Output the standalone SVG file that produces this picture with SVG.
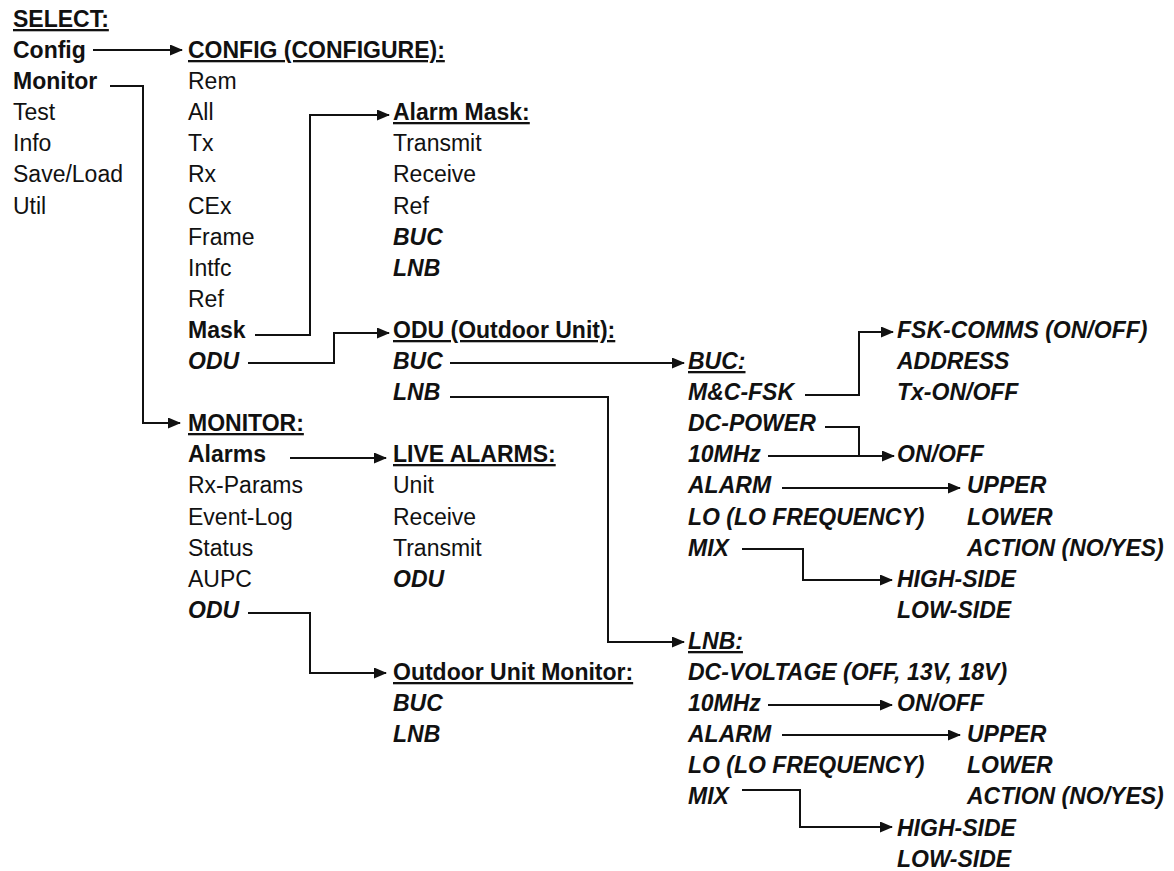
<svg xmlns="http://www.w3.org/2000/svg" width="1174" height="871" viewBox="0 0 1174 871">
<style>
text{font-family:"Liberation Sans",Arial,sans-serif;font-size:23px;fill:#111}
.b{font-weight:bold}
.bi{font-weight:bold;font-style:italic}
.h{font-weight:bold;text-decoration:underline;text-decoration-thickness:2px;text-underline-offset:3px}
.hi{font-weight:bold;font-style:italic;text-decoration:underline;text-decoration-thickness:2px;text-underline-offset:3px}
.c{fill:none;stroke:#111;stroke-width:2;marker-end:url(#ah)}
.n{fill:none;stroke:#111;stroke-width:2}
</style>
<defs>
<marker id="ah" markerUnits="userSpaceOnUse" markerWidth="13" markerHeight="11" refX="12" refY="5.5" orient="auto">
<path d="M0,0 L13,5.5 L0,11 z" fill="#111"/>
</marker>
</defs>
<rect width="1174" height="871" fill="#fff"/>
<g id="select">
<text x="13" y="27" class="h">SELECT:</text>
<text x="13" y="58" class="b">Config</text>
<text x="13" y="89" class="b">Monitor</text>
<text x="13" y="120">Test</text>
<text x="13" y="151">Info</text>
<text x="13" y="182">Save/Load</text>
<text x="13" y="214">Util</text>
</g>
<g id="config">
<text x="188" y="58" class="h">CONFIG (CONFIGURE):</text>
<text x="188" y="89">Rem</text>
<text x="188" y="120">All</text>
<text x="188" y="151">Tx</text>
<text x="188" y="182">Rx</text>
<text x="188" y="214">CEx</text>
<text x="188" y="245">Frame</text>
<text x="188" y="276">Intfc</text>
<text x="188" y="307">Ref</text>
<text x="188" y="338" class="b">Mask</text>
<text x="188" y="369" class="bi">ODU</text>
</g>
<g id="alarm-mask">
<text x="393" y="120" class="h">Alarm Mask:</text>
<text x="393" y="151">Transmit</text>
<text x="393" y="182">Receive</text>
<text x="393" y="214">Ref</text>
<text x="393" y="245" class="bi">BUC</text>
<text x="393" y="276" class="bi">LNB</text>
</g>
<g id="odu-config">
<text x="393" y="338" class="h">ODU (Outdoor Unit):</text>
<text x="393" y="369" class="bi">BUC</text>
<text x="393" y="400" class="bi">LNB</text>
</g>
<g id="monitor">
<text x="188" y="431" class="h">MONITOR:</text>
<text x="188" y="462" class="b">Alarms</text>
<text x="188" y="493">Rx-Params</text>
<text x="188" y="525">Event-Log</text>
<text x="188" y="556">Status</text>
<text x="188" y="587">AUPC</text>
<text x="188" y="618" class="bi">ODU</text>
</g>
<g id="live-alarms">
<text x="393" y="462" class="h">LIVE ALARMS:</text>
<text x="393" y="493">Unit</text>
<text x="393" y="525">Receive</text>
<text x="393" y="556">Transmit</text>
<text x="393" y="587" class="bi">ODU</text>
</g>
<g id="odu-monitor">
<text x="393" y="680" class="h">Outdoor Unit Monitor:</text>
<text x="393" y="711" class="bi">BUC</text>
<text x="393" y="742" class="bi">LNB</text>
</g>
<g id="buc">
<text x="688" y="369" class="hi">BUC:</text>
<text x="688" y="400" class="bi">M&amp;C-FSK</text>
<text x="688" y="431" class="bi">DC-POWER</text>
<text x="688" y="462" class="bi">10MHz</text>
<text x="688" y="493" class="bi">ALARM</text>
<text x="688" y="525" class="bi">LO (LO FREQUENCY)</text>
<text x="688" y="556" class="bi">MIX</text>
</g>
<g id="fsk">
<text x="897" y="338" class="bi">FSK-COMMS (ON/OFF)</text>
<text x="897" y="369" class="bi">ADDRESS</text>
<text x="897" y="400" class="bi">Tx-ON/OFF</text>
</g>
<g id="buc-onoff">
<text x="897" y="462" class="bi">ON/OFF</text>
</g>
<g id="buc-alarm">
<text x="967" y="493" class="bi">UPPER</text>
<text x="967" y="525" class="bi">LOWER</text>
<text x="967" y="556" class="bi">ACTION (NO/YES)</text>
</g>
<g id="buc-mix">
<text x="897" y="587" class="bi">HIGH-SIDE</text>
<text x="897" y="618" class="bi">LOW-SIDE</text>
</g>
<g id="lnb">
<text x="688" y="649" class="hi">LNB:</text>
<text x="688" y="680" class="bi">DC-VOLTAGE (OFF, 13V, 18V)</text>
<text x="688" y="711" class="bi">10MHz</text>
<text x="688" y="742" class="bi">ALARM</text>
<text x="688" y="773" class="bi">LO (LO FREQUENCY)</text>
<text x="688" y="804" class="bi">MIX</text>
</g>
<g id="lnb-onoff">
<text x="897" y="711" class="bi">ON/OFF</text>
</g>
<g id="lnb-alarm">
<text x="967" y="742" class="bi">UPPER</text>
<text x="967" y="773" class="bi">LOWER</text>
<text x="967" y="804" class="bi">ACTION (NO/YES)</text>
</g>
<g id="lnb-mix">
<text x="897" y="836" class="bi">HIGH-SIDE</text>
<text x="897" y="867" class="bi">LOW-SIDE</text>
</g>
<g id="connectors">
<path class="c" d="M93,50 H182"/>
<path class="c" d="M110,86 H143 V423 H180"/>
<path class="c" d="M255,335 H310 V115 H389"/>
<path class="c" d="M248,363 H334 V333 H389"/>
<path class="c" d="M450,363 H684"/>
<path class="c" d="M450,397 H608 V642 H684"/>
<path class="c" d="M290,458 H386"/>
<path class="c" d="M248,613 H310 V673 H386"/>
<path class="c" d="M805,395 H859 V332 H893"/>
<path class="n" d="M825,427 H859 V456"/>
<path class="c" d="M768,456 H894"/>
<path class="c" d="M782,488 H960"/>
<path class="c" d="M742,549 H803 V580 H892"/>
<path class="c" d="M768,705 H892"/>
<path class="c" d="M782,735 H960"/>
<path class="c" d="M742,790 H800 V827 H892"/>
</g>
</svg>
